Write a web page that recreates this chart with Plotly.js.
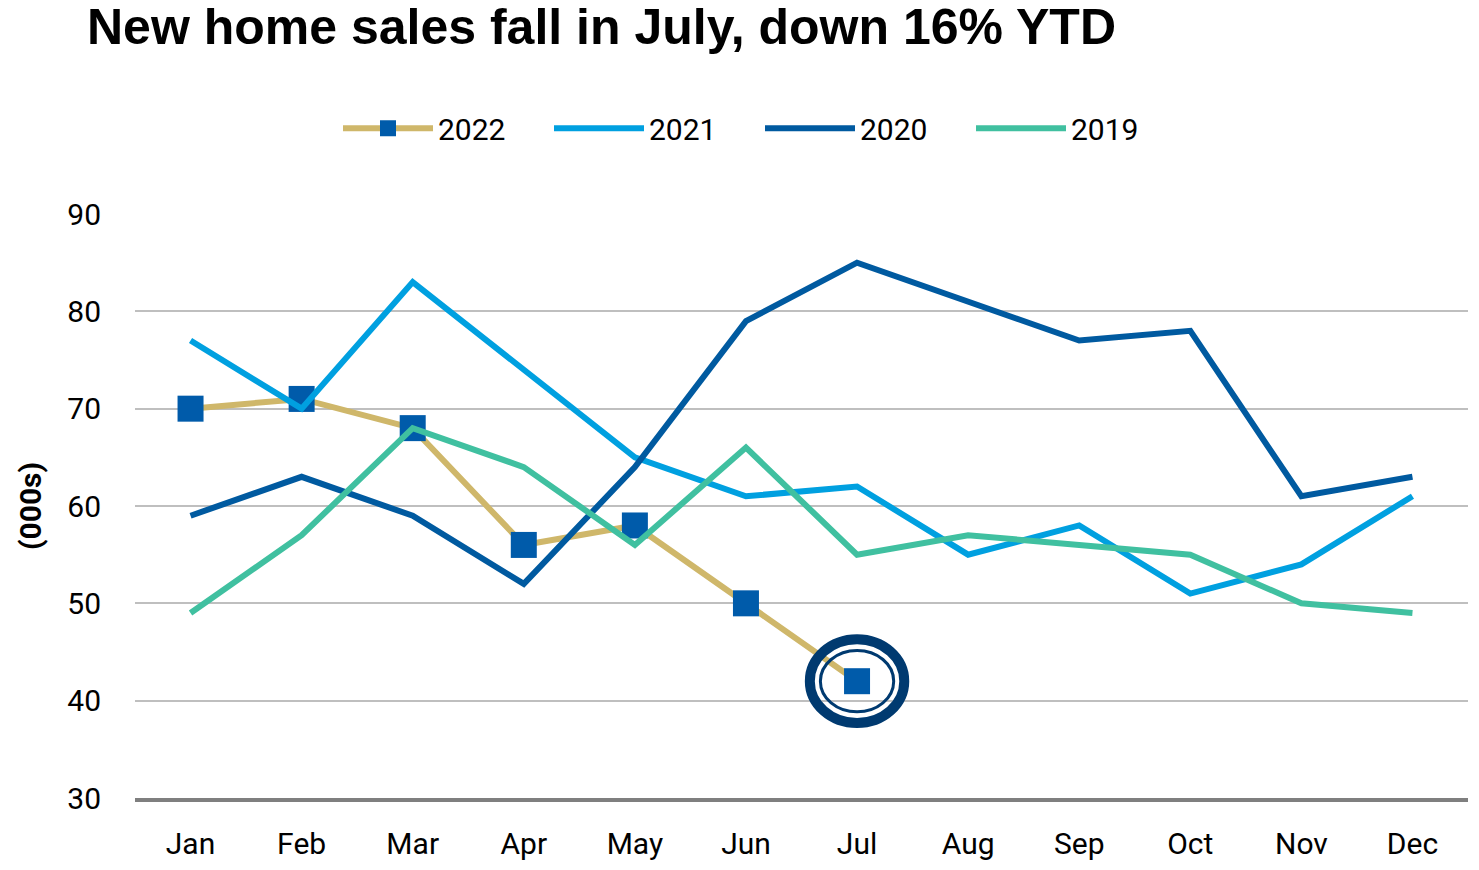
<!DOCTYPE html>
<html>
<head>
<meta charset="utf-8">
<script src="https://cdn.plot.ly/plotly-3.0.1.min.js"></script>
<style>html,body{margin:0;padding:0;background:#fff;}#chart{width:1479px;height:870px;}</style>
</head>
<body>
<div id="chart"></div>
<script>
const months = ["Jan","Feb","Mar","Apr","May","Jun","Jul","Aug","Sep","Oct","Nov","Dec"];
const sales2022 = [70, 71, 68, 56, 58, 50, 42];
const sales2021 = [77, 70, 83, 74, 65, 61, 62, 55, 58, 51, 54, 61];
const sales2020 = [59, 63, 59, 52, 64, 79, 85, 81, 77, 78, 61, 63];
const sales2019 = [49, 57, 68, 64, 56, 66, 55, 57, 56, 55, 50, 49];
const yTicks = [30, 40, 50, 60, 70, 80, 90];

const tickFont = {family: "Roboto, 'Liberation Sans Narrow', sans-serif", size: 30, color: "#000"};

const traces = [
  {name: "2022", x: months.slice(0, sales2022.length), y: sales2022, type: "scatter", mode: "lines+markers",
   line: {color: "#CFB76A", width: 6}, marker: {symbol: "square", size: 26, color: "#005BAA"}},
  {name: "2021", x: months, y: sales2021, type: "scatter", mode: "lines", line: {color: "#00A0E0", width: 6}},
  {name: "2020", x: months, y: sales2020, type: "scatter", mode: "lines", line: {color: "#005AA0", width: 6}},
  {name: "2019", x: months, y: sales2019, type: "scatter", mode: "lines", line: {color: "#40C0A0", width: 6}}
];

// highlight ring around latest 2022 value
const lastIdx = sales2022.length - 1;
const lastVal = sales2022[lastIdx];
const shapes = [
  {type: "circle", xref: "x", yref: "y", x0: lastIdx - 0.425, x1: lastIdx + 0.425, y0: lastVal - 4.3, y1: lastVal + 4.3,
   line: {color: "#003A70", width: 10}, fillcolor: "rgba(0,0,0,0)", layer: "above"},
  {type: "circle", xref: "x", yref: "y", x0: lastIdx - 0.33, x1: lastIdx + 0.33, y0: lastVal - 3.15, y1: lastVal + 3.15,
   line: {color: "#003A70", width: 3}, fillcolor: "rgba(0,0,0,0)", layer: "above"}
];

const layout = {
  width: 1479, height: 870,
  margin: {l: 135, r: 11, t: 214, b: 72, autoexpand: false},
  paper_bgcolor: "#fff", plot_bgcolor: "#fff",
  title: {text: "<b>New home sales fall in July, down 16% YTD</b>", x: 87 / 1479, xref: "container", xanchor: "left",
          y: 0.99, yanchor: "top", yref: "container",
          font: {family: "'Liberation Sans', Arial, sans-serif", size: 50, color: "#000"}},
  showlegend: true,
  legend: {orientation: "h", x: 760 / 1479, xanchor: "center", xref: "container", y: 1.147, yanchor: "middle", yref: "paper",
           font: tickFont, itemwidth: 90, traceorder: "normal", entrywidth: 106, entrywidthmode: "pixels"},
  xaxis: {type: "category", categoryarray: months, range: [-0.5, 11.5], showgrid: false,
          showline: true, linecolor: "#7F7F7F", linewidth: 4, ticks: "", tickfont: tickFont, tickangle: 0,
          ticklabelstandoff: 16, zeroline: false, fixedrange: true},
  yaxis: {range: [30, 90], tickvals: yTicks, showgrid: true, gridcolor: "#BFBFBF", gridwidth: 2,
          zeroline: false, ticks: "", tickfont: tickFont, ticklabelstandoff: 33,
          title: {text: "<b>(000s)</b>", font: {family: "Roboto, sans-serif", size: 30, color: "#000"}, standoff: 16}},
  shapes: shapes
};

Plotly.newPlot("chart", traces, layout, {displayModeBar: false, staticPlot: true});
</script>
</body>
</html>
